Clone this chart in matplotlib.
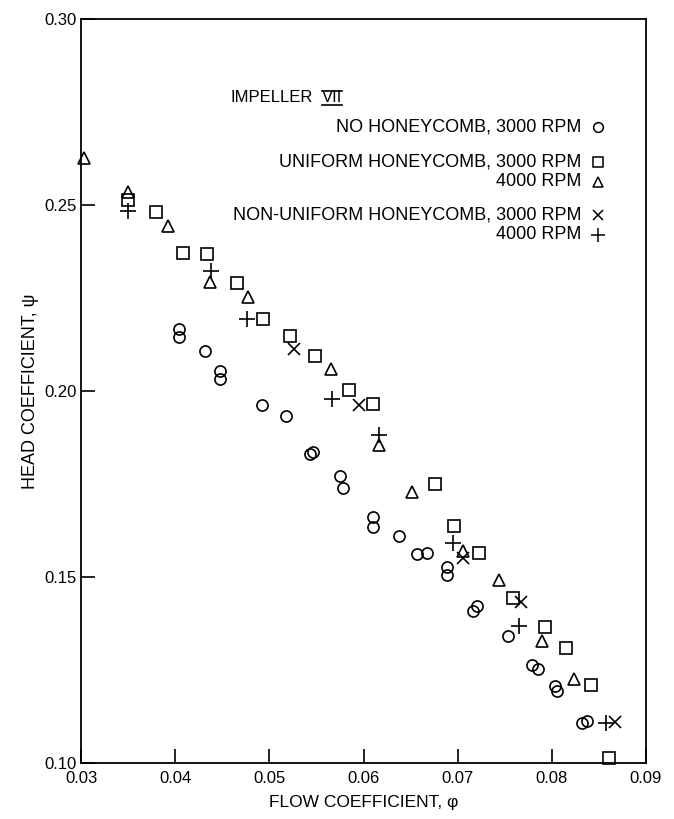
import matplotlib
matplotlib.use("Agg")
import matplotlib.pyplot as plt
from matplotlib.lines import Line2D

plt.rcParams['font.family'] = ['Liberation Sans', 'DejaVu Sans']

# no honeycomb, 3000 rpm (circles)
no_hc_x = [0.0404, 0.0404, 0.0432, 0.0448, 0.0448, 0.0492, 0.0518, 0.0543, 0.0546,
           0.0575, 0.0578, 0.0610, 0.0610, 0.0638, 0.0657, 0.0667, 0.0689, 0.0689,
           0.0716, 0.0721, 0.0753, 0.0779, 0.0785, 0.0803, 0.0805, 0.0832, 0.0837]
no_hc_y = [0.2167, 0.2145, 0.2108, 0.2054, 0.2032, 0.1962, 0.1933, 0.1831, 0.1836,
           0.1771, 0.1739, 0.1661, 0.1634, 0.1610, 0.1562, 0.1565, 0.1527, 0.1505,
           0.1409, 0.1422, 0.1341, 0.1263, 0.1253, 0.1207, 0.1194, 0.1108, 0.1113]

# uniform honeycomb, 3000 rpm (squares)
uni3_x = [0.0350, 0.0380, 0.0408, 0.0434, 0.0466, 0.0493, 0.0522, 0.0548, 0.0585,
          0.0610, 0.0676, 0.0696, 0.0723, 0.0759, 0.0793, 0.0815, 0.0842, 0.0861]
uni3_y = [0.2514, 0.2481, 0.2371, 0.2368, 0.2290, 0.2194, 0.2148, 0.2094, 0.2003,
          0.1965, 0.1750, 0.1637, 0.1565, 0.1444, 0.1366, 0.1309, 0.1210, 0.1013]

# uniform honeycomb, 4000 rpm (triangles)
uni4_x = [0.0303, 0.0350, 0.0392, 0.0437, 0.0477, 0.0565, 0.0616, 0.0652, 0.0706,
          0.0744, 0.0789, 0.0824]
uni4_y = [0.2626, 0.2535, 0.2444, 0.2293, 0.2253, 0.2059, 0.1855, 0.1729, 0.1570,
          0.1492, 0.1328, 0.1226]

# non-uniform honeycomb, 3000 rpm (x)
non3_x = [0.0526, 0.0595, 0.0706, 0.0767, 0.0867]
non3_y = [0.2113, 0.1962, 0.1551, 0.1433, 0.1110]

# non-uniform honeycomb, 4000 rpm (+)
non4_x = [0.0350, 0.0438, 0.0476, 0.0566, 0.0616, 0.0695, 0.0765, 0.0857]
non4_y = [0.2484, 0.2323, 0.2194, 0.1979, 0.1882, 0.1591, 0.1368, 0.1108]

x_ticks = [0.03, 0.04, 0.05, 0.06, 0.07, 0.08, 0.09]
y_ticks = [0.10, 0.15, 0.20, 0.25, 0.30]

fig = plt.figure(figsize=(6.74, 8.19), dpi=100)
ax = fig.add_axes([0.1202, 0.0684, 0.8383, 0.9084])

ms = 8
mew = 1.2
common = dict(linestyle="none", color="black", mew=mew, ms=ms, clip_on=False)
ax.plot(no_hc_x, no_hc_y, marker="o", mfc="none", **common)
ax.plot(uni3_x, uni3_y, marker="s", mfc="none", **common)
ax.plot(uni4_x, uni4_y, marker="^", mfc="none", **common)
ax.plot(non3_x, non3_y, marker="x", **common)
ax.plot(non4_x, non4_y, marker="+", ms=ms + 3, color="black", mew=mew,
        linestyle="none", clip_on=False)

ax.set_xlim(0.03, 0.09)
ax.set_ylim(0.10, 0.30)
ax.set_xticks(x_ticks)
ax.set_xticklabels([f"{v:.2f}" for v in x_ticks])
ax.set_yticks(y_ticks)
ax.set_yticklabels([f"{v:.2f}" for v in y_ticks])
ax.tick_params(direction="in", length=10, width=1.2, labelsize=12)
ax.tick_params(axis="x", pad=6)
ax.tick_params(axis="y", pad=3)
for s in ax.spines.values():
    s.set_linewidth(1.3)

ax.set_xlabel("FLOW COEFFICIENT, \u03c6", fontsize=12.5, labelpad=6)
ax.set_ylabel("HEAD COEFFICIENT, \u03c8", fontsize=13, labelpad=4)

# legend block written as text, like the original
fs = 13
ax.text(0.265, 0.894, "IMPELLER", transform=ax.transAxes, fontsize=12,
        ha="left", va="center")
vii = ax.text(0.426, 0.894, "VII", transform=ax.transAxes, fontsize=12,
              ha="left", va="center")

rows = [
    (0.855, "NO HONEYCOMB, 3000 RPM", "o", ms - 1),
    (0.808, "UNIFORM HONEYCOMB, 3000 RPM", "s", ms - 1),
    (0.781, "4000 RPM", "^", ms - 1),
    (0.737, "NON-UNIFORM HONEYCOMB, 3000 RPM", "x", ms - 1),
    (0.710, "4000 RPM", "+", ms + 2),
]
for yy, label, mk, size in rows:
    ax.text(0.885, yy, label, transform=ax.transAxes, fontsize=fs,
            ha="right", va="center")
    ax.add_line(Line2D([0.915], [yy], transform=ax.transAxes, marker=mk,
                       mfc="none", mec="black", mew=1.1, ms=size,
                       linestyle="none"))

# bars over and under the roman numeral
fig.canvas.draw()
bb = vii.get_window_extent().transformed(fig.transFigure.inverted())
for yy in (bb.y0 + 0.001, bb.y1 - 0.001):
    fig.add_artist(Line2D([bb.x0, bb.x1], [yy, yy], color="black", lw=1.2,
                          transform=fig.transFigure))

fig.savefig("out.png", dpi=100)
